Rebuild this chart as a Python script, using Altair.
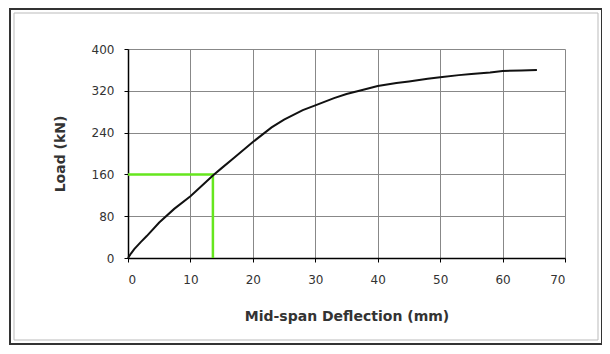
import altair as alt
import pandas as pd

deflection = [0, 0.5, 1, 2, 3, 5, 7.4, 10, 12, 13.6, 15, 17, 20, 23, 25, 28, 30, 33, 35, 38, 40, 43, 45, 48, 50, 53, 55, 58, 60, 63, 65.5]
load = [0, 9, 17, 30, 42, 68, 94, 118, 140, 158, 172, 192, 222, 250, 265, 283, 292, 306, 314, 323, 329, 335, 338, 343, 346, 350, 352, 355, 358, 359, 360]

guide_x = [0, 13.6, 13.6]
guide_y = [160, 160, 0]

curve = pd.DataFrame({"x": deflection, "y": load})
guide = pd.DataFrame({"x": guide_x, "y": guide_y, "o": [0, 1, 2]})

W, H = 437, 209

xs = alt.Scale(domain=[0, 70], nice=False)
ys = alt.Scale(domain=[0, 400], nice=False)

base_x = alt.X("x:Q", scale=xs, axis=alt.Axis(values=[0, 10, 20, 30, 40, 50, 60, 70],
                                             title="Mid-span Deflection (mm)"))
base_y = alt.Y("y:Q", scale=ys, axis=alt.Axis(values=[0, 80, 160, 240, 320, 400],
                                             title="Load (kN)"))

border_outer = alt.Chart(pd.DataFrame({"k": [0]})).mark_rect(
    fill=None, stroke="#333333", strokeWidth=2, clip=False
).encode(x=alt.value(-118), x2=alt.value(474), y=alt.value(-40), y2=alt.value(295))

border_inner = alt.Chart(pd.DataFrame({"k": [0]})).mark_rect(
    fill=None, stroke="#bbbbbb", strokeWidth=1, clip=False
).encode(x=alt.value(-114), x2=alt.value(470), y=alt.value(-36), y2=alt.value(291))

line = alt.Chart(curve).mark_line(color="#111111", strokeWidth=2).encode(x=base_x, y=base_y)

green = alt.Chart(guide).mark_line(color="#66e61e", strokeWidth=2.5).encode(
    x=alt.X("x:Q", scale=xs), y=alt.Y("y:Q", scale=ys), order="o:Q"
)

chart = alt.layer(border_outer, border_inner, green, line).properties(
    width=W, height=H,
    autosize=alt.AutoSizeParams(type="none"),
    padding={"left": 120, "top": 41, "right": 37, "bottom": 90},
).configure_view(stroke=None).configure_axis(
    gridColor="#888888", gridWidth=1, gridOpacity=1,
    domainColor="#000000", domainWidth=1.5,
    tickColor="#000000", tickSize=4,
    labelFont="DejaVu Sans", labelFontSize=12, labelColor="#333333",
    titleFont="DejaVu Sans", titleFontSize=14, titleFontWeight="bold", titleColor="#333333",
).configure_axisX(labelPadding=12, titlePadding=24).configure_axisY(labelPadding=10, titlePadding=24)

chart.save("out.html", embed_options={"renderer": "svg", "actions": False})
